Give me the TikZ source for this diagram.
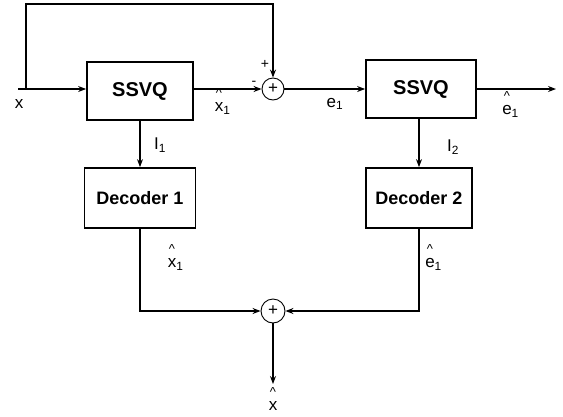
\documentclass[tikz,border=0pt]{standalone}
\usepackage{fontspec}
\setmainfont{Liberation Sans}
\usetikzlibrary{arrows.meta}
\newcommand\hatted[2]{\begin{tabular}[b]{@{}c@{}}{\fontsize{13}{13}\selectfont\textasciicircum}\\[-5pt]#1\end{tabular}\rlap{\textsubscript{#2}}}
\begin{document}
\begin{tikzpicture}[x=1pt,y=-1pt,
  blk/.style={draw,line width=1.8pt,inner sep=0pt},
  sumnode/.style={draw,circle,line width=0.9pt,minimum size=22pt,inner sep=0pt,font=\fontsize{17}{17}\selectfont},
  conn/.style={line width=1.1pt,-{Stealth[length=8pt,width=6pt]}},
  lbl/.style={font=\fontsize{17}{19}\selectfont,inner sep=0pt}]
\useasboundingbox (0,0) rectangle (563,416);
\node[blk,minimum width=106pt,minimum height=58pt,font=\bfseries\fontsize{20}{20}\selectfont] (ssvq1) at (140,91) {SSVQ};
\node[blk,minimum width=110pt,minimum height=58pt,font=\bfseries\fontsize{20}{20}\selectfont] (ssvq2) at (421,89) {SSVQ};
\node[blk,minimum width=111pt,minimum height=60pt,font=\bfseries\fontsize{18}{18}\selectfont] (dec1) at (140,198) {Decoder 1};
\node[blk,minimum width=106pt,minimum height=60pt,font=\bfseries\fontsize{18}{18}\selectfont] (dec2) at (419,198) {Decoder 2};
\node[sumnode] (sum1) at (273,89) {+};
\node[sumnode,minimum size=24pt] (sum2) at (273,311) {+};
\coordinate (in) at (18,89);
\coordinate (split) at (26,89);
\coordinate (topl) at (26,4);
\coordinate (out) at (556,89);
\coordinate (res) at (273,384);
\draw[conn] (in) -- (ssvq1.west |- in);
\draw[conn] (split) -- (topl) -| (sum1.north);
\draw[conn] (ssvq1.east |- sum1) -- (sum1.west);
\draw[conn] (sum1.east) -- (ssvq2.west |- sum1);
\draw[conn] (ssvq2.east) -- (out);
\draw[conn] (ssvq1.south -| dec1.north) -- (dec1.north);
\draw[conn] (ssvq2.south -| dec2.north) -- (dec2.north);
\draw[conn] (dec1.south) |- (sum2.west);
\draw[conn] (dec2.south) |- (sum2.east);
\draw[conn] (sum2.south) -- (res);
\node[lbl] (lx) at (19,104) {x};
\node[lbl] (lxh1) at (219,101) {\hatted{x}{1}};
\node[lbl] (le1) at (335,104) {e\textsubscript{1}};
\node[lbl] (leh1) at (507,104) {\hatted{e}{1}};
\node[lbl] (li1) at (160,145) {I\textsubscript{1}};
\node[lbl] (li2) at (453,147) {I\textsubscript{2}};
\node[lbl] (lxh2) at (172,257) {\hatted{x}{1}};
\node[lbl] (leh2) at (430,257) {\hatted{e}{1}};
\node[lbl] (lxh) at (273,400) {\hatted{x}{}};
\node[lbl,font=\fontsize{14}{14}\selectfont] (minus) at (254,83) {-};
\node[lbl,font=\fontsize{14}{14}\selectfont] (plus) at (265,64) {+};
\end{tikzpicture}
\end{document}
